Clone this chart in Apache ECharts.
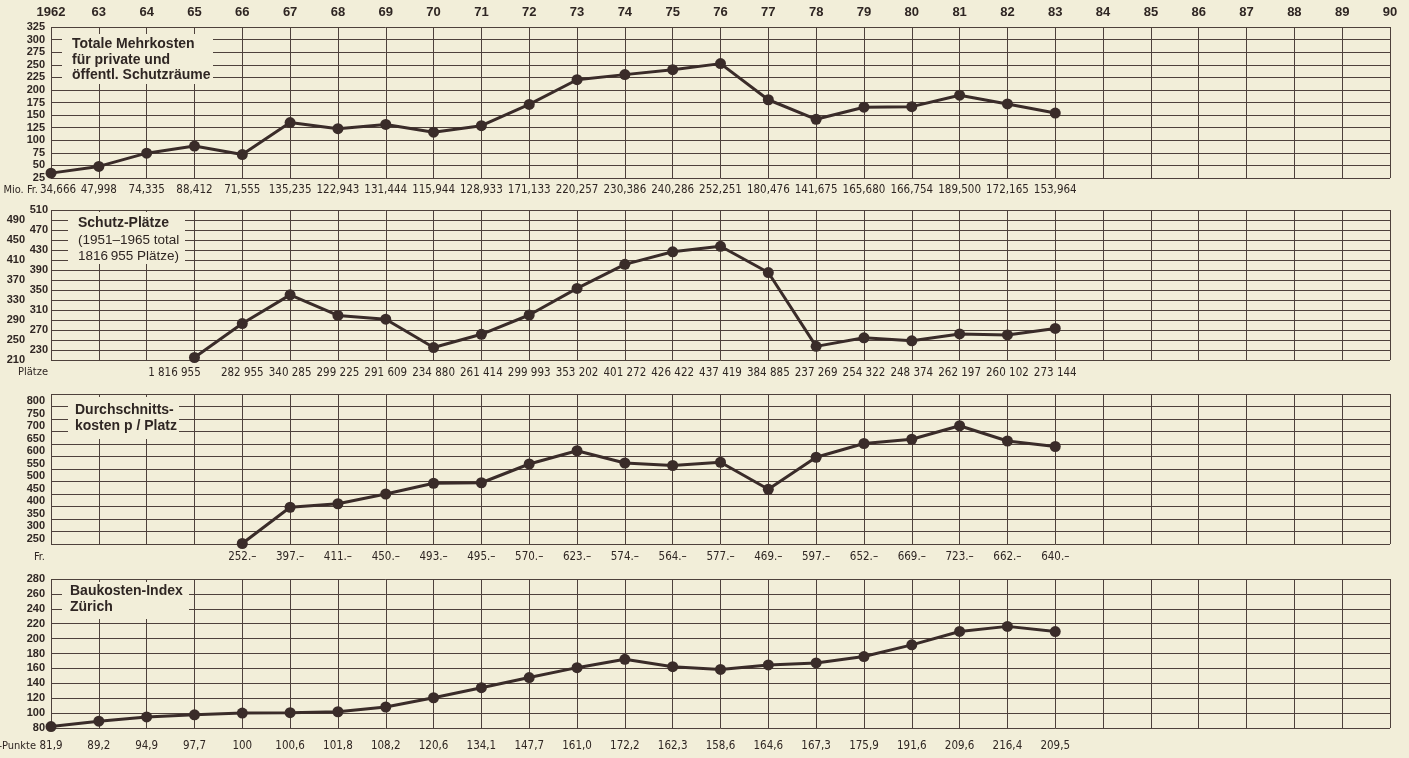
<!DOCTYPE html>
<html>
<head>
<meta charset="utf-8">
<title>Schutzräume 1962–1983</title>
<script src="https://cdn.jsdelivr.net/npm/echarts@6/dist/echarts.min.js"></script>
<style>
html, body { margin: 0; padding: 0; background: #f2eed9; }
#chart { width: 1409px; height: 758px; }
</style>
</head>
<body>
<div id="chart"></div>
<script>
// Jahresachse oben
var yearTicks = ['1962','63','64','65','66','67','68','69','70','71','72','73','74','75',
  '76','77','78','79','80','81','82','83','84','85','86','87','88','89','90'];
var dataYears = [1962,1963,1964,1965,1966,1967,1968,1969,1970,1971,1972,1973,1974,1975,
  1976,1977,1978,1979,1980,1981,1982,1983];

// Totale Mehrkosten (Mio. Fr.)
var mehrkosten = [34.666,47.998,74.335,88.412,71.555,135.235,122.943,131.444,115.944,128.933,
  171.133,220.257,230.386,240.286,252.251,180.476,141.675,165.680,166.754,189.500,172.165,153.964];
var mehrkostenLabels = ['34,666','47,998','74,335','88,412','71,555','135,235','122,943','131,444',
  '115,944','128,933','171,133','220,257','230,386','240,286','252,251','180,476','141,675',
  '165,680','166,754','189,500','172,165','153,964'];

// Schutz-Plätze (Tausend); 1965 = Summe 1951-1965, im Bild unten eingezeichnet
var plaetze = [null,null,null,215,282.955,340.285,299.225,291.609,234.880,261.414,299.993,
  353.202,401.272,426.422,437.419,384.885,237.269,254.322,248.374,262.197,260.102,273.144];
var plaetzeLabels = ['','','','1 816 955','282 955','340 285','299 225','291 609','234 880',
  '261 414','299 993','353 202','401 272','426 422','437 419','384 885','237 269','254 322',
  '248 374','262 197','260 102','273 144'];

// Durchschnittskosten pro Platz (Fr.)
var kosten = [null,null,null,null,252,397,411,450,493,495,570,623,574,564,577,469,597,652,669,723,662,640];
var kostenLabels = ['','','','','252.–','397.–','411.–','450.–','493.–','495.–','570.–','623.–',
  '574.–','564.–','577.–','469.–','597.–','652.–','669.–','723.–','662.–','640.–'];

// Baukosten-Index Zürich
var bauindex = [81.9,89.2,94.9,97.7,100,100.6,101.8,108.2,120.6,134.1,147.7,161.0,172.2,162.3,
  158.6,164.6,167.3,175.9,191.6,209.6,216.4,209.5];
var bauindexLabels = ['81,9','89,2','94,9','97,7','100','100,6','101,8','108,2','120,6','134,1',
  '147,7','161,0','172,2','162,3','158,6','164,6','167,3','175,9','191,6','209,6','216,4','209,5'];

var bg = '#f2eed9';
var gridColor = '#4e413b';
var ink = '#3a2c29';
var textColor = '#2f2623';
var narrow = '"Liberation Sans Narrow", "DejaVu Sans Condensed", sans-serif';
var sans = '"Liberation Sans", Arial, sans-serif';

function pairs(vals) {
  return dataYears.map(function (y, i) { return [y, vals[i]]; });
}

function labelAt(labels, v) {
  var s = labels[Math.round(v - 1962)];
  return s ? s : '';
}

function bottomAxis(gi, labels, margin, fmt) {
  return {
    type: 'value', gridIndex: gi, position: 'bottom',
    min: 1962, max: 1990, interval: 1,
    axisLine: { show: false }, axisTick: { show: false },
    splitLine: { show: true, lineStyle: { color: gridColor, width: 1 } },
    axisLabel: {
      margin: margin, showMinLabel: true, showMaxLabel: true, hideOverlap: false,
      fontFamily: narrow, fontSize: 11.5, color: textColor,
      formatter: fmt || function (v) { return labelAt(labels, v); },
      rich: {
        r: { fontFamily: narrow, fontSize: 11.5, color: textColor, padding: [0, 0, 0, 14] },
        l: { fontFamily: narrow, fontSize: 11.5, color: textColor, padding: [0, 40, 0, 0] }
      }
    }
  };
}

function leftAxis(gi, min, max, step, margin, fmt, split, vAlign) {
  return {
    type: 'value', gridIndex: gi, position: 'left',
    min: min, max: max, interval: step,
    axisLine: { show: false }, axisTick: { show: false },
    splitLine: { show: split, lineStyle: { color: gridColor, width: 1 } },
    axisLabel: {
      margin: margin, showMinLabel: true, showMaxLabel: true,
      fontFamily: sans, fontWeight: 'bold', fontSize: 11, color: textColor,
      verticalAlign: vAlign || 'middle',
      formatter: fmt
    }
  };
}

function lineSeries(xi, yi, vals) {
  return {
    type: 'line', xAxisIndex: xi, yAxisIndex: yi,
    data: pairs(vals),
    symbol: 'circle', symbolSize: 11,
    lineStyle: { color: ink, width: 3 },
    itemStyle: { color: ink },
    z: 5, silent: true
  };
}

// Titelkasten: Hintergrund deckt das Raster ab
function titleBox(x, y, w, h, lines) {
  var out = [{
    type: 'rect', z: 100, shape: { x: x, y: y, width: w, height: h },
    style: { fill: bg }
  }];
  lines.forEach(function (ln) {
    out.push({
      type: 'text', z: 101,
      style: {
        text: ln.t, x: ln.x, y: ln.y, fill: textColor,
        font: (ln.b ? 'bold ' : '') + ln.s + 'px ' + sans,
        verticalAlign: 'middle'
      }
    });
  });
  return out;
}

function unitText(t, x, y) {
  return {
    type: 'text', z: 100,
    style: { text: t, x: x, y: y, fill: textColor, font: '11px ' + narrow,
      align: 'right', verticalAlign: 'middle' }
  };
}

var chart = echarts.init(document.getElementById('chart'));
chart.setOption({
  backgroundColor: bg,
  animation: false,
  grid: [
    { left: 51, right: 19, top: 27, height: 151 },
    { left: 51, right: 19, top: 210, height: 150 },
    { left: 51, right: 19, top: 394, height: 150 },
    { left: 51, right: 19, top: 579, height: 149 }
  ],
  xAxis: [
    bottomAxis(0, mehrkostenLabels, 6, function (v) {
      var s = labelAt(mehrkostenLabels, v);
      return Math.round(v) === 1962 ? '{r|' + s + '}' : s;
    }),
    {
      type: 'value', gridIndex: 0, position: 'top',
      min: 1962, max: 1990, interval: 1,
      axisLine: { show: false }, axisTick: { show: false }, splitLine: { show: false },
      axisLabel: {
        margin: 8, showMinLabel: true, showMaxLabel: true,
        fontFamily: sans, fontWeight: 'bold', fontSize: 13, color: textColor,
        formatter: function (v) { return labelAt(yearTicks, v); }
      }
    },
    bottomAxis(1, plaetzeLabels, 7, function (v) {
      var s = labelAt(plaetzeLabels, v);
      return Math.round(v) === 1965 ? '{l|' + s + '}' : s;
    }),
    bottomAxis(2, kostenLabels, 7),
    bottomAxis(3, bauindexLabels, 12)
  ],
  yAxis: [
    leftAxis(0, 25, 325, 25, 6, null, true),
    leftAxis(1, 210, 510, 20, 3, function (v) { return (v - 230) % 40 === 0 ? v : ''; }, true),
    leftAxis(1, 210, 510, 20, 26, function (v) { return ((v - 250) % 40 === 0 && v <= 490) ? v : ''; }, false),
    leftAxis(2, 250, 850, 50, 6, function (v) { return v > 800 ? '' : v; }, true, 'bottom'),
    leftAxis(3, 80, 280, 20, 6, null, true)
  ],
  series: [
    lineSeries(0, 0, mehrkosten),
    lineSeries(2, 1, plaetze),
    lineSeries(3, 3, kosten),
    lineSeries(4, 4, bauindex)
  ],
  graphic: [].concat(
    titleBox(62, 34, 151, 50, [
      { t: 'Totale Mehrkosten', x: 72, y: 44, s: 14, b: true },
      { t: 'für private und', x: 72, y: 60, s: 14, b: true },
      { t: 'öffentl. Schutzräume', x: 72, y: 75, s: 14, b: true }
    ]),
    titleBox(68, 212, 117, 52, [
      { t: 'Schutz-Plätze', x: 78, y: 223, s: 14, b: true },
      { t: '(1951–1965 total', x: 78, y: 240, s: 13.5, b: false },
      { t: '1816\u2009955 Plätze)', x: 78, y: 256, s: 13.5, b: false }
    ]),
    titleBox(68, 397, 111, 42, [
      { t: 'Durchschnitts-', x: 75, y: 410, s: 14, b: true },
      { t: 'kosten p / Platz', x: 75, y: 426, s: 14, b: true }
    ]),
    titleBox(62, 582, 127, 37, [
      { t: 'Baukosten-Index', x: 70, y: 591, s: 14, b: true },
      { t: 'Zürich', x: 70, y: 607, s: 14, b: true }
    ]),
    [
      unitText('Mio. Fr.', 38, 190),
      unitText('Plätze', 48, 372),
      unitText('Fr.', 45, 557),
      unitText('Index-Punkte', 36, 746)
    ]
  )
});
</script>
</body>
</html>
